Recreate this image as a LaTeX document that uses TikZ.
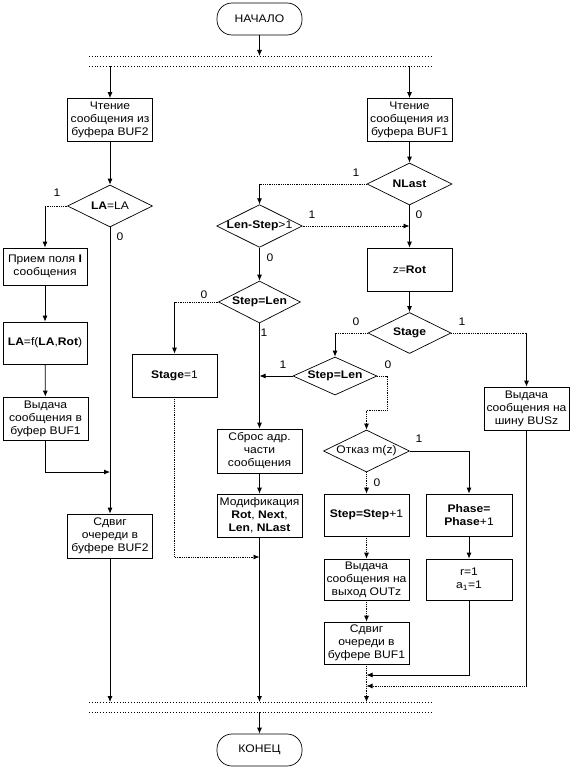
\documentclass[tikz,border=0pt]{standalone}
\usepackage{fontspec}
\setmainfont{Liberation Sans}[FakeStretch=1.1]
\usetikzlibrary{shapes.geometric,arrows.meta}
\begin{document}
\begin{tikzpicture}[x=1pt,y=-1pt,
  every node/.style={font=\fontsize{11}{13}\selectfont},
  blk/.style={draw, line width=0.7pt, rectangle, minimum width=85pt, minimum height=43pt, inner sep=0pt, align=center},
  dmd/.style={draw, line width=0.7pt, diamond, aspect=2, minimum width=85pt, minimum height=42pt, inner sep=0pt, align=center},
  term/.style={draw, line width=0.7pt, rounded corners=15pt, minimum width=85pt, minimum height=32pt, inner sep=0pt},
  ln/.style={line width=0.8pt},
  arr/.style={ln, -{Latex[length=6pt,width=5pt]}},
  dln/.style={line width=0.8pt, densely dotted},
  darr/.style={dln, -{Latex[length=6pt,width=5pt]}},
  lbl/.style={font=\fontsize{11}{13}\selectfont, inner sep=0pt},
  hbar/.style={line width=0.8pt, dotted}
]
\useasboundingbox (0,0) rectangle (577,778);

% terminals and bars
\node[term] (start) at (259.5,19) {НАЧАЛО};
\coordinate (t1L) at (89,56); \coordinate (t1R) at (431,56);
\coordinate (t2L) at (89,66); \coordinate (t2R) at (431,66);
\draw[hbar] (t1L) -- (t1R);
\draw[hbar] (t2L) -- (t2R);
\coordinate (b1L) at (89,702); \coordinate (b1R) at (431,702);
\coordinate (b2L) at (89,712); \coordinate (b2R) at (431,712);
\draw[hbar] (b1L) -- (b1R);
\draw[hbar] (b2L) -- (b2R);
\node[term] (end) at (259.5,750) {КОНЕЦ};

% left column
\node[blk] (rd2) at (110,120) {Чтение\\сообщения из\\буфера BUF2};
\node[dmd] (dla) at (110,206) {\textbf{LA}=LA};
\node[blk, minimum width=84pt, minimum height=37pt] (recv) at (45,266.5) {Прием поля \textbf{I}\\сообщения};
\node[blk, minimum width=84pt, minimum height=42pt] (laf) at (45,343) {\textbf{LA}=f(\textbf{LA},\textbf{Rot})};
\node[blk] (out1) at (45.5,418.5) {Выдача\\сообщения в\\буфер BUF1};
\node[blk, minimum height=44pt] (sh2) at (110,536) {Сдвиг\\очереди в\\буфере BUF2};

% middle column
\node[dmd, minimum width=84pt, minimum height=39pt] (dls) at (259.5,226) {\textbf{Len-Step}>1};
\node[dmd, minimum width=82pt] (dsl1) at (259.5,302) {\textbf{Step=Len}};
\node[blk] (st1) at (174.5,375.5) {\textbf{Stage}=1};
\node[blk, minimum height=44pt] (rst) at (259.5,451) {Сброс адр.\\части\\сообщения};
\node[blk] (mod) at (259.5,515.5) {Модификация\\\textbf{Rot}, \textbf{Next},\\\textbf{Len}, \textbf{NLast}};

% right column
\node[blk] (rd1) at (409.5,120) {Чтение\\сообщения из\\буфера BUF1};
\node[dmd] (dnl) at (409.5,184) {\textbf{NLast}};
\node[blk] (zrot) at (409.5,269.5) {z=\textbf{Rot}};
\node[dmd, minimum width=83pt, minimum height=41pt] (dst) at (409.5,333) {\textbf{Stage}};
\node[dmd, minimum width=84pt, minimum height=38pt] (dsl2) at (335,376) {\textbf{Step=Len}};
\node[blk] (bus) at (526.5,408.5) {Выдача\\сообщения на\\шину BUSz};
\node[dmd, minimum width=86pt] (dfl) at (366.5,451) {Отказ m(z)};
\node[blk, minimum height=42pt] (sinc) at (366.5,515) {\textbf{Step=Step}+1};
\node[blk, minimum width=86pt, minimum height=42pt] (ph) at (469,515) {\textbf{Phase=}\\\textbf{Phase}+1};
\node[blk, minimum height=41pt] (outz) at (366.5,579.5) {Выдача\\сообщения на\\выход OUTz};
\node[blk, minimum width=86pt, minimum height=41pt] (rr) at (469,579.5) {r=1\\a\textsubscript{1}=1};
\node[blk, minimum height=42pt] (sh1) at (366.5,643) {Сдвиг\\очереди в\\буфере BUF1};

% connectors
\draw[arr] (start.south) -- (start.south |- t1L);
\draw[arr] (rd2.north |- t2L) -- (rd2.north);
\draw[arr] (rd1.north |- t2L) -- (rd1.north);
\draw[arr] (rd2) -- (dla);
\draw[arr] (rd1) -- (dnl);

\draw[dln] (dla.west) -- (dla.west -| recv);
\draw[arr] (dla.west -| recv) -- (recv.north);
\draw[arr] (recv) -- (laf);
\draw[arr] (laf) -- (out1);
\draw[arr] (dla.south) -- (sh2.north);
\coordinate (j1) at (110,472);
\draw[arr] (out1.south) |- (j1);
\draw[arr] (sh2.south) -- (sh2.south |- b1L);

\draw[dln] (dnl.west) -- (dnl.west -| dls);
\draw[arr] (dnl.west -| dls) -- (dls.north);
\draw[arr] (dnl) -- (zrot);
\draw[darr] (dls.east) -- (dls.east -| dnl);
\draw[arr] (dls) -- (dsl1);
\draw[dln] (dsl1.west) -- (dsl1.west -| st1);
\draw[arr] (dsl1.west -| st1) -- (st1.north);
\draw[arr] (dsl1.south) -- (rst.north);
\draw[arr] (dsl2.west) -- (dsl2.west -| rst);
\draw[arr] (rst) -- (mod);
\draw[arr] (mod.south) -- (mod.south |- b1L);
\coordinate (j2) at (259.5,557);
\draw[darr] (st1.south) |- (j2);

\draw[arr] (zrot) -- (dst);
\draw[dln] (dst.west) -- (dst.west -| dsl2);
\draw[arr] (dst.west -| dsl2) -- (dsl2.north);
\draw[dln] (dst.east) -- (dst.east -| bus);
\draw[arr] (dst.east -| bus) -- (bus.north);
\coordinate (k1) at (387,410);
\draw[darr] (dsl2.east) -| (k1) -| (dfl.north);
\draw[arr] (dfl.east) -| (ph.north);
\draw[darr] (dfl.south) -- (sinc.north);
\draw[darr] (sinc) -- (outz);
\draw[darr] (outz) -- (sh1);
\draw[darr] (sh1.south) -- (sh1.south |- b1L);
\draw[arr] (ph) -- (rr);
\coordinate (j3) at (366.5,675);
\draw[arr] (rr.south) |- (j3);
\coordinate (j4) at (366.5,686);
\draw[ln] (bus.south) -- (bus.south |- j4);
\draw[darr] (bus.south |- j4) -- (j4);
\draw[arr] (end.north |- b2L) -- (end.north);

% branch labels
\node[lbl] (la1) at (57,193) {1};
\node[lbl] (la0) at (120,237) {0};
\node[lbl] (nl1) at (356,173) {1};
\node[lbl] (nl0) at (419,215) {0};
\node[lbl] (ls1) at (312,215) {1};
\node[lbl] (ls0) at (270,258) {0};
\node[lbl] (sa0) at (204,295) {0};
\node[lbl] (sa1) at (264,333) {1};
\node[lbl] (sg0) at (356,322) {0};
\node[lbl] (sg1) at (462,322) {1};
\node[lbl] (sb1) at (283,365) {1};
\node[lbl] (sb0) at (388,365) {0};
\node[lbl] (fl1) at (419,439) {1};
\node[lbl] (fl0) at (377,483) {0};
\end{tikzpicture}
\end{document}
